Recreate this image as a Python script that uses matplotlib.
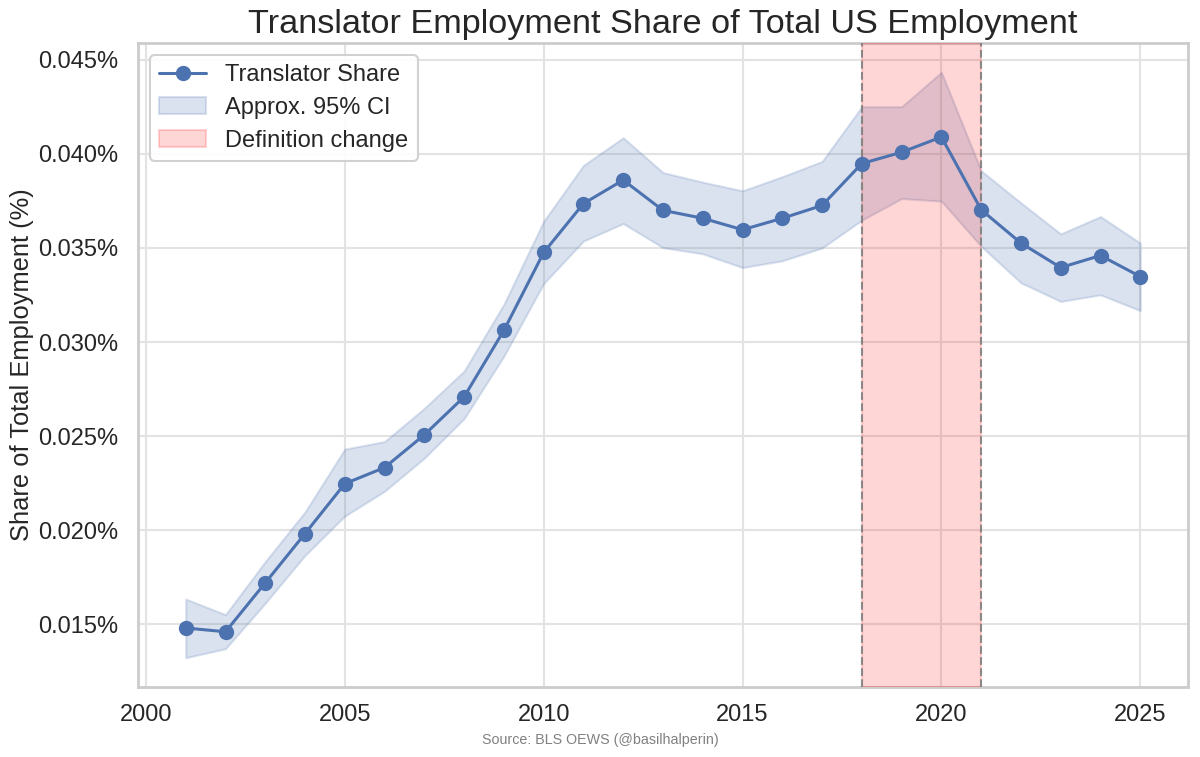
import numpy as np
import seaborn as sns
from matplotlib import pyplot as plt
from matplotlib.ticker import FuncFormatter

# translator share of total US employment, in percent
years = list(range(2001, 2026))
share = [0.01480, 0.01460, 0.01720, 0.01982, 0.02247, 0.02333, 0.02507,
         0.02709, 0.03062, 0.03476, 0.03736, 0.03861, 0.03700, 0.03658,
         0.03597, 0.03658, 0.03726, 0.03949, 0.04009, 0.04090, 0.03703,
         0.03526, 0.03396, 0.03460, 0.03348]
ci_upper = [0.01634, 0.01551, 0.01833, 0.02097, 0.02431, 0.02471, 0.02648,
            0.02846, 0.03201, 0.03642, 0.03939, 0.04086, 0.03901, 0.03850,
            0.03804, 0.03879, 0.03960, 0.04251, 0.04251, 0.04434, 0.03910,
            0.03740, 0.03575, 0.03667, 0.03526]
ci_lower = [0.01322, 0.01370, 0.01612, 0.01866, 0.02075, 0.02207, 0.02383,
            0.02593, 0.02925, 0.03311, 0.03537, 0.03630, 0.03502, 0.03469,
            0.03396, 0.03432, 0.03500, 0.03648, 0.03763, 0.03749, 0.03509,
            0.03315, 0.03216, 0.03251, 0.03167]
change_start, change_end = 2018, 2021

sns.set_theme(style='whitegrid', context='talk')
plt.rcParams['font.family'] = ['Liberation Sans', 'DejaVu Sans']

blue = '#4C72B0'
fig = plt.figure(figsize=(12, 7.57), dpi=100)
ax = fig.add_axes([138/1200, 1 - 687/757, 1050/1200, 644/757])

ax.plot(years, share, marker='o', color=blue, linewidth=2.2, markersize=10,
        label='Translator Share', zorder=4)
ax.fill_between(years, ci_lower, ci_upper, color=blue, alpha=0.2,
                label='Approx. 95% CI', zorder=2)
ax.axvspan(change_start, change_end, color='red', alpha=0.16,
           label='Definition change', zorder=3)
ax.axvline(change_start, color='gray', linestyle='--', linewidth=1.5, alpha=0.9, zorder=3)
ax.axvline(change_end, color='gray', linestyle='--', linewidth=1.5, alpha=0.9, zorder=3)

ax.yaxis.set_major_formatter(FuncFormatter(lambda v, p: '{:.3f}%'.format(v)))
ax.set_xticks(range(2000, 2026, 5))
ax.tick_params(labelsize=17)
ax.tick_params(axis='y', pad=5)
ax.grid(True, color='#e3e3e3', linewidth=1.5)
for s in ax.spines.values():
    s.set_color('#cccccc')
    s.set_linewidth(2)

ax.set_title('Translator Employment Share of Total US Employment', fontsize=24.7, pad=7)
ax.set_ylabel('Share of Total Employment (%)', fontsize=18.4, labelpad=3)
ax.legend(loc='upper left', fontsize=17, framealpha=0.9, labelspacing=0.45)

fig.text(0.5, 1 - 740/757, 'Source: BLS OEWS (@basilhalperin)', ha='center',
         va='center', fontsize=10.3, color='gray')

fig.savefig('out.png', dpi=100)
